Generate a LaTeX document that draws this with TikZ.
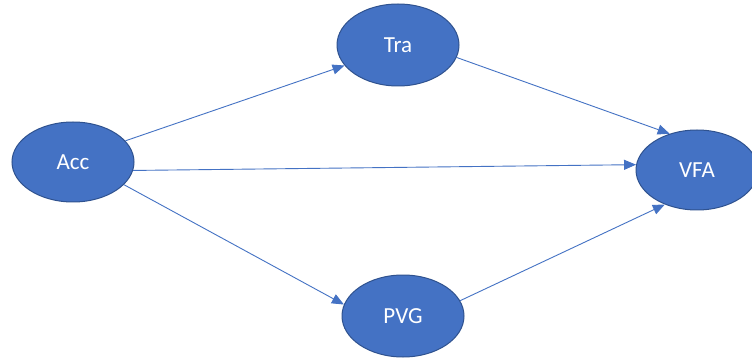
\documentclass[tikz,border=0pt]{standalone}
\usepackage{fontspec}
\setmainfont{Carlito}
\usetikzlibrary{arrows.meta,shapes.geometric}
\definecolor{nodefill}{HTML}{4472C4}
\definecolor{nodeline}{HTML}{2F528F}
\definecolor{arrowcol}{HTML}{4472C4}
\tikzset{
  var/.style={ellipse, draw=nodeline, line width=1pt, fill=nodefill, text=white,
    minimum width=122pt, minimum height=80pt, inner sep=0pt,
    font=\fontsize{23pt}{26pt}\selectfont},
  link/.style={draw=arrowcol, line width=0.9pt, -{Triangle[length=12pt,width=10pt]}}
}
\begin{document}
\begin{tikzpicture}[x=1pt,y=-1pt]
\useasboundingbox[fill=white] (0,0) rectangle (752,358);
\node[var] (Acc) at (73,162) {Acc};
\node[var, minimum height=82pt] (Tra) at (398,45) {Tra};
\node[var] (VFA) at (697,170) {VFA};
\node[var, minimum height=82pt] (PVG) at (403,316) {PVG};
\draw[link] (Acc.22) -- (Tra.201);
\draw[link] (Acc.-8) -- (VFA.175);
\draw[link] (Acc.-24) -- (PVG.169);
\draw[link] (Tra.-12) -- (VFA.127);
\draw[link] (PVG.15) -- (VFA.227);
\end{tikzpicture}
\end{document}
